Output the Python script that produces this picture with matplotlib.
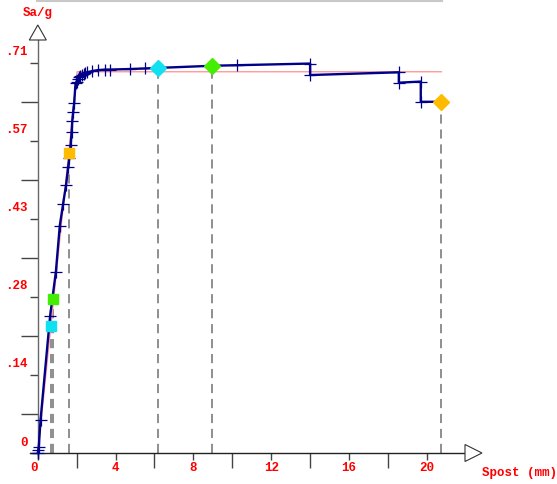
import matplotlib
matplotlib.use('Agg')
import matplotlib.pyplot as plt
import numpy as np
from matplotlib.transforms import ScaledTranslation

# pushover curve (displacement mm, Sa/g)
disp = [0, 0.02, 0.05, 0.14, 0.63, 0.93, 1.13, 1.30, 1.45, 1.56, 1.62, 1.69, 1.74,
        1.77, 1.82, 1.87, 1.94, 2.00, 2.05, 2.11, 2.18, 2.27, 2.35, 2.42, 2.55, 2.77,
        3.10, 3.45, 3.70, 4.73, 5.50, 6.16, 9.0, 10.26, 14.0, 14.0, 18.56, 18.56,
        19.69, 19.69, 20.77]
sa = [0, 0.005, 0.011, 0.060, 0.250, 0.332, 0.416, 0.456, 0.490, 0.523, 0.540, 0.564,
      0.588, 0.607, 0.625, 0.641, 0.677, 0.680, 0.684, 0.688, 0.690, 0.692, 0.694,
      0.695, 0.697, 0.699, 0.701, 0.702, 0.702, 0.703, 0.704, 0.705, 0.709, 0.710,
      0.713, 0.692, 0.697, 0.678, 0.680, 0.643, 0.643]

# bilinear fit
bil_x = [0, 2.02, 20.75]
bil_y = [0, 0.698, 0.698]

# highlighted points
pt_x = [0.66, 0.78, 1.60, 6.18, 8.96, 20.73]
pt_y = [0.2325, 0.282, 0.549, 0.705, 0.709, 0.643]
pt_marker = ['s', 's', 's', 'D', 'D', 'D']
pt_color = ['#11e0f0', '#44ee00', '#ffbb00', '#11e0f0', '#44ee00', '#ffbb00']

x_major = [0, 4, 8, 12, 16, 20]
x_minor = [2, 6, 10, 14, 18]
y_major = [i / 7 for i in range(6)]
y_minor = [(2 * i + 1) / 14 for i in range(5)]
y_labels = ['0', '.14', '.28', '.43', '.57', '.71']

W, H = 557, 484
x0, sx = 37.8, 19.45     # px of x=0, px per mm
y0, sy = 453.0, 546.2    # px of y=0, px per unit

fig = plt.figure(figsize=(W / 100, H / 100), dpi=100)
ax = fig.add_axes([0, 0, 1, 1])
ax.set_xlim(-x0 / sx, (W - x0) / sx)
ax.set_ylim((y0 - H) / sy, y0 / sy)
ax.patch.set_alpha(0)

for s in ['top', 'right']:
    ax.spines[s].set_visible(False)
axc = '#444444'
ax.spines['left'].set_position(('data', 0))
ax.spines['bottom'].set_position(('data', 0))
ax.spines['left'].set_bounds(-5 / sy, (y0 - 40) / sy)
ax.spines['bottom'].set_bounds((30 - x0) / sx, (465 - x0) / sx)
ax.spines['left'].set_color('#666666')
ax.spines['bottom'].set_color('#222222')
ax.spines['left'].set_linewidth(1.0)
ax.spines['bottom'].set_linewidth(1.0)

# arrows
ax.fill([(465 - x0) / sx, (482 - x0) / sx, (465 - x0) / sx], [8.5 / sy, 0, -8.5 / sy],
        facecolor='white', edgecolor='#333333', lw=0.8, clip_on=False, zorder=5)
ax.fill([-8.5 / sx, 0, 8.5 / sx], [(y0 - 40) / sy, (y0 - 25) / sy, (y0 - 40) / sy],
        facecolor='white', edgecolor='#333333', lw=0.8, clip_on=False, zorder=5)

font = dict(family='Liberation Mono', weight='bold', size=9)
ax.set_xticks(x_major)
ax.set_xticks(x_minor, minor=True)
ax.set_xticklabels([str(v) for v in x_major], color='red', fontdict=font)
ax.set_yticks(y_major)
ax.set_yticks(y_minor, minor=True)
ax.set_yticklabels(y_labels, color='red', fontdict=font)
ax.tick_params(axis='x', which='major', length=5, width=1, color=axc, pad=1.5, direction='out')
ax.tick_params(axis='x', which='minor', length=10.8, width=1, color=axc, direction='out')
ax.tick_params(axis='y', which='major', length=5.8, width=1, color=axc, pad=1.5, direction='out')
ax.tick_params(axis='y', which='minor', length=12, width=1, color=axc, direction='out')
for lab in ax.get_yticklabels():
    lab.set_transform(lab.get_transform() + ScaledTranslation(0, 0.12, fig.dpi_scale_trans))
xl = ax.get_xticklabels()
xl[0].set_transform(xl[0].get_transform() + ScaledTranslation(-0.04, 0, fig.dpi_scale_trans))

# dashed guides
for x, y in zip(pt_x, pt_y):
    ax.plot([x, x], [0, y], color='#707070', lw=1.1, dashes=(6, 3.8), zorder=1)

ax.plot(bil_x, bil_y, color='#ff9999', lw=1.0, zorder=2)
ax.plot(disp, sa, color='#000088', lw=1.7, marker='+', markersize=8, mew=0.9, zorder=3)

for x, y, m, c in zip(pt_x, pt_y, pt_marker, pt_color):
    ax.plot(x, y, marker=m, color=c, markersize=7 if m == 's' else 8, mec=c, zorder=4,
            linestyle='none')

# top border strip
ax.plot([(37 - x0) / sx, (442 - x0) / sx], [y0 / sy - 0.5 / sy] * 2, color='#c8c8c8',
        lw=1.5, clip_on=False)

fig.text(37.5 / W, 1 - 13 / H, 'Sa/g', color='red', ha='center', va='center', **font)
fig.text(519 / W, 1 - 473 / H, 'Spost (mm)', color='red', ha='center', va='center', **font)

fig.savefig('out.png', dpi=100)
